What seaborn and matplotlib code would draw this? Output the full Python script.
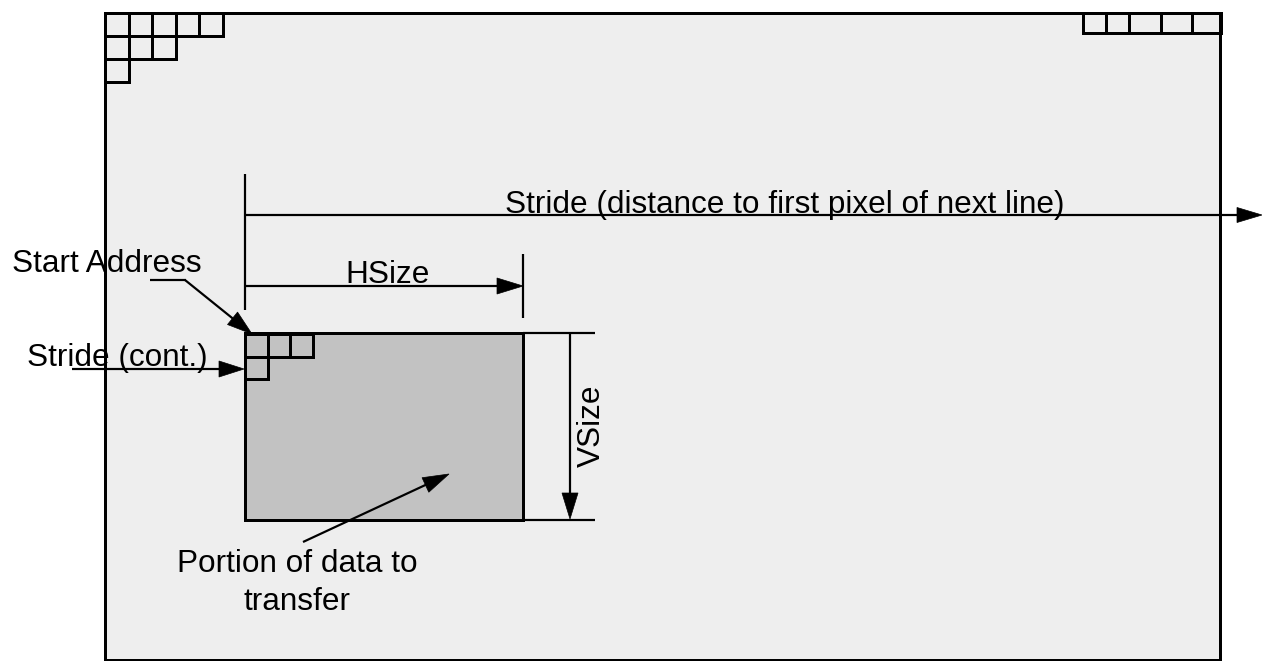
import matplotlib
matplotlib.use("Agg")
import matplotlib.pyplot as plt
from matplotlib.patches import Rectangle, Polygon
import seaborn as sns
import math

# ---- labels (text content) ----
stride_label = "Stride (distance to first pixel of next line)"
hsize_label = "HSize"
vsize_label = "VSize"
start_label = "Start Address"
cont_label = "Stride (cont.)"
portion_labels = ["Portion of data to", "transfer"]

# ---- pixel-cell counts per row (staircase of pixels) ----
frame_rows = [5, 3, 1]
window_rows = [3, 1]
top_right_cells = [1083, 1106, 1129, 1161, 1192, 1221]

sns.set_style("white")
plt.rcParams['font.family'] = ['Liberation Sans', 'DejaVu Sans']
plt.rcParams['text.color'] = 'black'

W, H = 1262, 661
fig = plt.figure(figsize=(W / 100, H / 100), dpi=100)
ax = fig.add_axes([0, 0, 1, 1])
ax.set_xlim(0, W)
ax.set_ylim(H, 0)
ax.axis("off")

PX = 0.72  # points per pixel
FS = 22.7
thick = 3 * PX
thin = 2.2 * PX

def line(x0, y0, x1, y1, lw=thin):
    ax.plot([x0, x1], [y0, y1], color="black", lw=lw, solid_capstyle="butt")

def arrow(x0, y0, x1, y1, hl=25, hw=7.5):
    dx, dy = x1 - x0, y1 - y0
    L = math.hypot(dx, dy)
    ux, uy = dx / L, dy / L
    bx, by = x1 - ux * hl, y1 - uy * hl
    line(x0, y0, bx + ux * 2, by + uy * 2)
    px, py = -uy, ux
    ax.add_patch(Polygon([(x1, y1), (bx + px * hw, by + py * hw),
                          (bx - px * hw, by - py * hw)], closed=True,
                         facecolor="black", edgecolor="black", lw=0.5))

# main frame
ax.add_patch(Rectangle((105, 13), 1220 - 105, 660 - 13, facecolor="#eeeeee",
                       edgecolor="black", lw=thick))

# top-left staircase of pixel cells
cw, ch = 23.6, 23
for r, n in enumerate(frame_rows):
    for c in range(n):
        ax.add_patch(Rectangle((105 + c * cw, 13 + r * ch), cw, ch,
                               facecolor="none", edgecolor="black", lw=thick))

# top-right pixel cells
for a, b in zip(top_right_cells[:-1], top_right_cells[1:]):
    ax.add_patch(Rectangle((a, 13), b - a, 20, facecolor="none",
                           edgecolor="black", lw=thick))

# transfer window
ax.add_patch(Rectangle((245, 333), 523 - 245, 520 - 333, facecolor="#c2c2c2",
                       edgecolor="black", lw=thick))
wcw, wch = 22.7, 22.5
for r, n in enumerate(window_rows):
    for c in range(n):
        ax.add_patch(Rectangle((245 + c * wcw, 334 + r * wch), wcw, wch,
                               facecolor="none", edgecolor="black", lw=thick))

# extension lines for VSize
line(523, 333, 595, 333)
line(523, 520, 595, 520)

# vertical reference line at start
line(245, 174, 245, 310)
# HSize end tick
line(523, 254, 523, 318)

# Stride arrow
arrow(245, 215, 1262, 215)
ax.text(505, 213, stride_label, fontsize=FS, ha="left", va="baseline", color="black")

# HSize arrow
arrow(245, 286, 523, 286, hl=26, hw=8)
ax.text(345, 283, hsize_label, fontsize=FS, ha="left", va="baseline", color="black")

# VSize arrow
arrow(570, 333, 570, 519, hl=26, hw=8)
ax.text(600, 426, vsize_label, fontsize=FS, ha="center", va="baseline",
        rotation=90, rotation_mode="anchor", color="black")

# Start address
ax.text(12, 272, start_label, fontsize=FS, ha="left", va="baseline", color="black")
line(150, 280, 186, 280)
arrow(185, 280, 252, 334, hl=25, hw=8)

# Stride (cont.)
ax.text(27, 366, cont_label, fontsize=FS, ha="left", va="baseline", color="black")
arrow(72, 369, 244, 369, hl=25, hw=8)

# Portion of data
arrow(303, 542, 449, 474, hl=26, hw=8)
ax.text(297, 572, portion_labels[0], fontsize=FS, ha="center", va="baseline", color="black")
ax.text(297, 610, portion_labels[1], fontsize=FS, ha="center", va="baseline", color="black")

fig.savefig("out.png", dpi=100, facecolor="white")
